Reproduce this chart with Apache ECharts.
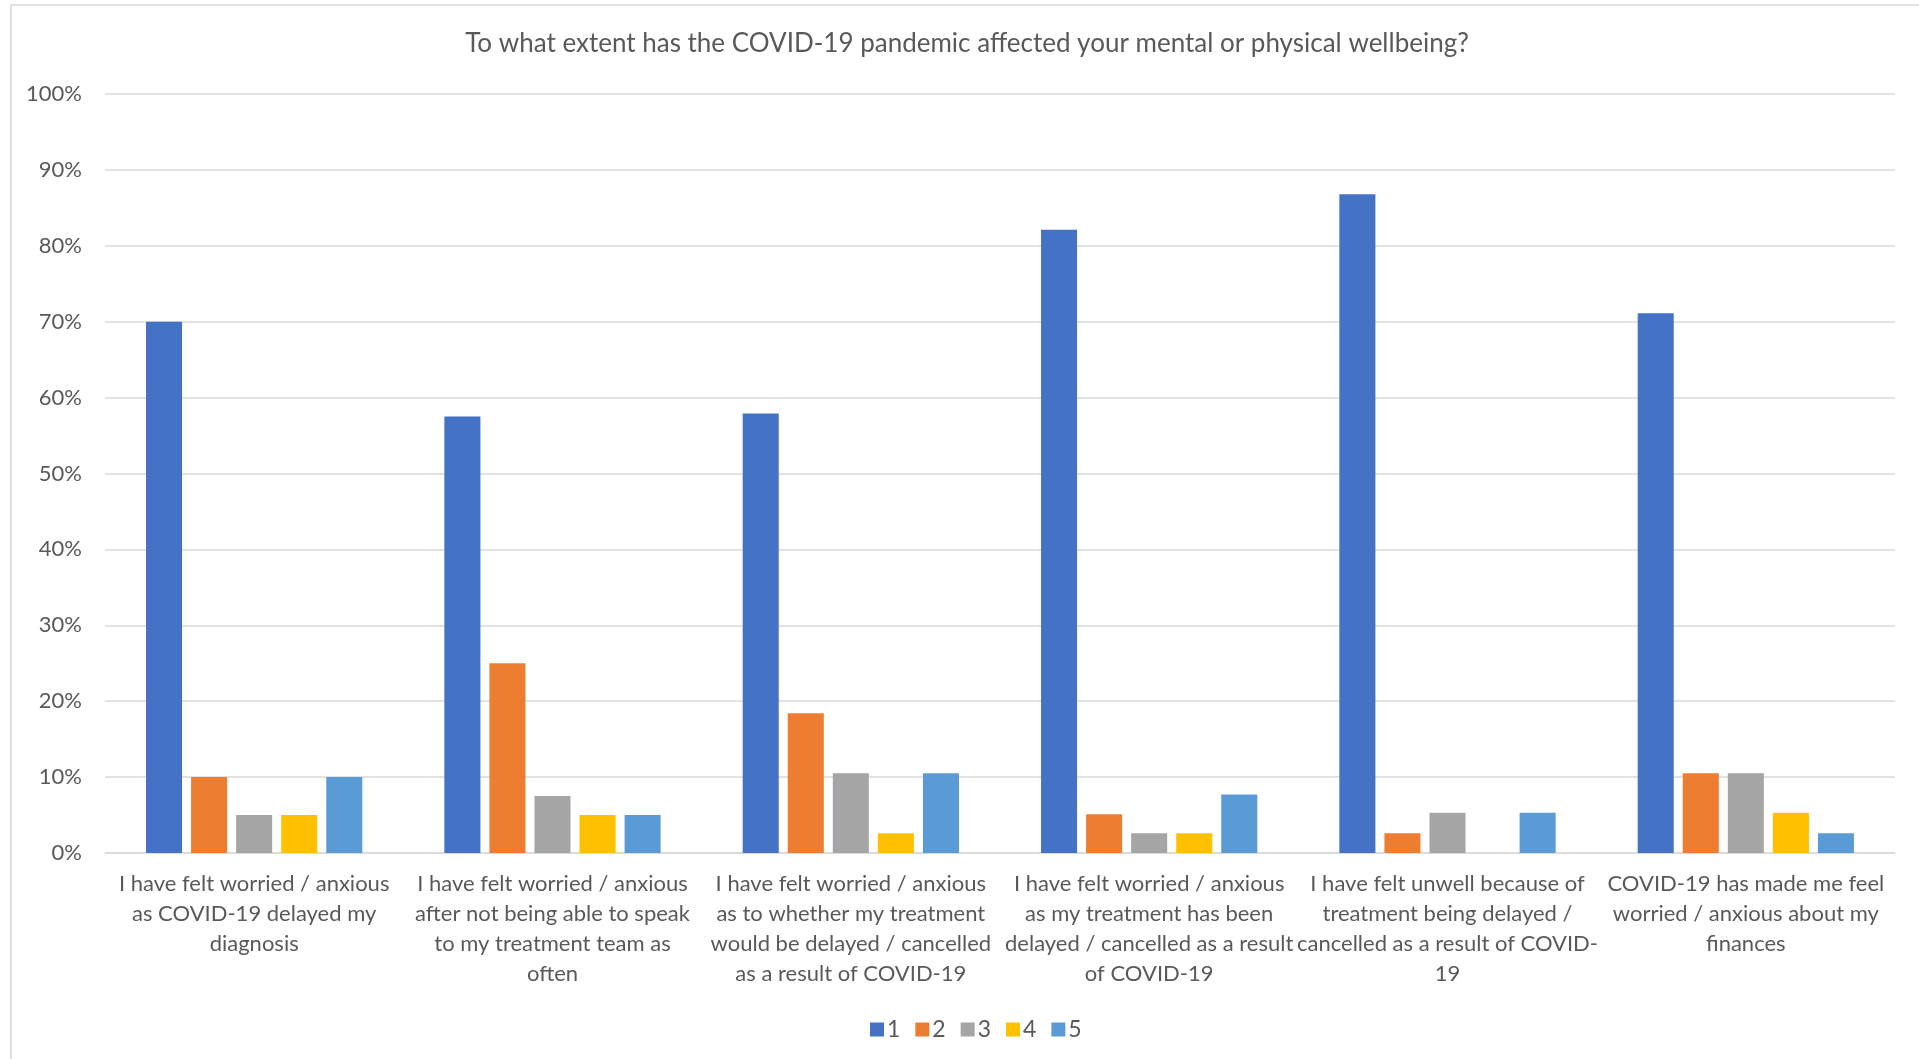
<!DOCTYPE html>
<html>
<head>
<meta charset="utf-8">
<title>COVID-19 wellbeing</title>
<script src="https://cdn.jsdelivr.net/npm/echarts@6/dist/echarts.min.js"></script>
<style>
  html, body { margin: 0; padding: 0; background: #fff; }
  #container { width: 1919px; height: 1059px; }
</style>
</head>
<body>
<div id="container"></div>
<script>
// categories (line breaks copied from the reference wrapping)
var categories = [
    'I have felt worried / anxious\nas COVID-19 delayed my\ndiagnosis',
    'I have felt worried / anxious\nafter not being able to speak\nto my treatment team as\noften',
    'I have felt worried / anxious\nas to whether my treatment\nwould be delayed / cancelled\nas a result of COVID-19',
    'I have felt worried / anxious\nas my treatment has been\ndelayed / cancelled as a result\nof COVID-19',
    'I have felt unwell because of\ntreatment being delayed /\ncancelled as a result of COVID-\n19',
    'COVID-19 has made me feel\nworried / anxious about my\nfinances'
];
var seriesNames = ['1', '2', '3', '4', '5'];
// percentages
var s1 = [70, 57.5, 57.9, 82.1, 86.8, 71.1];
var s2 = [10, 25, 18.4, 5.1, 2.6, 10.5];
var s3 = [5, 7.5, 10.5, 2.6, 5.3, 10.5];
var s4 = [5, 5, 2.6, 2.6, 0, 5.3];
var s5 = [10, 5, 10.5, 7.7, 5.3, 2.6];
var colors = ['#4472C4', '#ED7D31', '#A5A5A5', '#FFC000', '#5B9BD5'];

var allData = [s1, s2, s3, s4, s5];
var fontFam = 'Lato, "Open Sans", sans-serif';
var txtColor = '#595959';

var series = [];
for (var i = 0; i < seriesNames.length; i++) {
    series.push({
        name: seriesNames[i],
        type: 'bar',
        data: allData[i],
        barGap: '25%',
        barCategoryGap: '27.5%',
        itemStyle: { color: colors[i] }
    });
}

var myChart = echarts.init(document.getElementById('container'));
var option = {
    backgroundColor: '#fff',
    color: colors,
    animation: false,
    title: {
        text: 'To what extent has the COVID-19 pandemic affected your mental or physical wellbeing?',
        left: 967,
        textAlign: 'center',
        top: 31,
        padding: 0,
        textStyle: { fontFamily: fontFam, fontSize: 26, fontWeight: 'normal', color: txtColor }
    },
    graphic: [{
        type: 'rect',
        shape: { x: 11, y: 5, width: 2000, height: 2000 },
        style: { fill: 'none', stroke: '#D9D9D9', lineWidth: 1.5 },
        silent: true
    }],
    legend: {
        data: seriesNames,
        left: 865,
        top: 1013,
        icon: 'rect',
        itemWidth: 14,
        itemHeight: 14,
        itemGap: 15,
        textStyle: { fontFamily: fontFam, fontSize: 23, color: txtColor, padding: [0, 0, 0, -2] }
    },
    grid: {
        left: 105,
        right: 24,
        top: 94,
        bottom: 206
    },
    xAxis: {
        type: 'category',
        data: categories,
        axisLine: { lineStyle: { color: '#D9D9D9', width: 1.5 } },
        axisTick: { show: false },
        axisLabel: {
            interval: 0,
            margin: 16,
            lineHeight: 30,
            fontFamily: fontFam,
            fontSize: 22,
            color: txtColor
        }
    },
    yAxis: {
        type: 'value',
        min: 0,
        max: 100,
        interval: 10,
        axisLine: { show: false },
        axisTick: { show: false },
        splitLine: { lineStyle: { color: '#D9D9D9', width: 1.5 } },
        axisLabel: {
            margin: 23,
            fontFamily: fontFam,
            fontSize: 22,
            color: txtColor,
            formatter: function (value) {
                return value + '%';
            }
        }
    },
    series: series
};
myChart.setOption(option);
</script>
</body>
</html>
